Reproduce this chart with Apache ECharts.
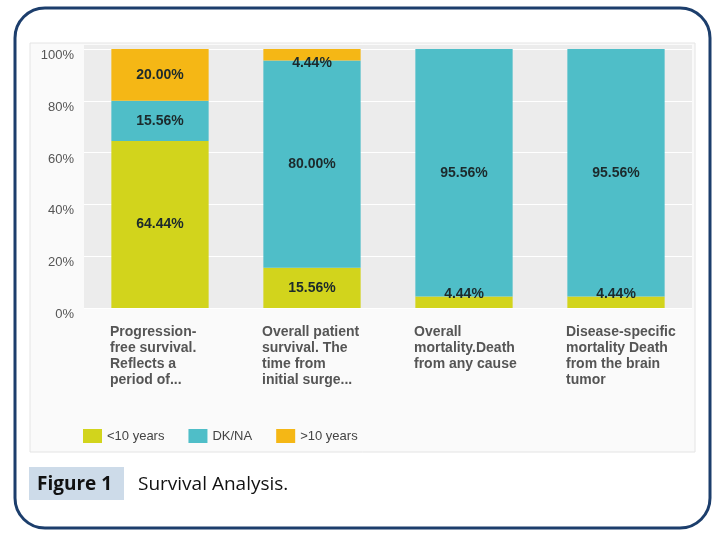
<!DOCTYPE html>
<html>
<head>
<meta charset="utf-8">
<script src="https://cdn.jsdelivr.net/npm/echarts@6/dist/echarts.min.js"></script>
<style>
  html, body { margin: 0; padding: 0; background: #fff; }
  #chart { width: 715px; height: 533px; }
</style>
</head>
<body>
<div id="chart"></div>
<script>
// categories (line breaks as in the picture)
var categories = [
  'Progression-\nfree survival.\nReflects a\nperiod of...',
  'Overall patient\nsurvival. The\ntime from\ninitial surge...',
  'Overall\nmortality.Death\nfrom any cause',
  'Disease-specific\nmortality Death\nfrom the brain\ntumor'
]
// series values, percent
var under10 = [64.44, 15.56, 4.44, 4.44]
var dkna = [15.56, 80.00, 95.56, 95.56]
var over10 = [20.00, 4.44, 0, 0]
var seriesNames = ['<10 years', 'DK/NA', '>10 years']
var yTicks = [0, 20, 40, 60, 80, 100]

var colors = ['#d2d41c', '#4fbec8', '#f5b715']
var font = 'Liberation Sans, Arial, sans-serif'

// small segments: label pushed inward like in the original
function buildData(vals, dir) {
  return vals.map(function (v) {
    var item = { value: v }
    if (v > 0 && v < 6) item.label = { offset: [0, dir * 8] }
    return item
  })
}

function makeSeries(name, vals, color, dir) {
  return {
    name: name,
    type: 'bar',
    stack: 'total',
    barWidth: '64%',
    itemStyle: { color: color },
    label: {
      show: true,
      position: 'inside',
      color: '#1c2a2c',
      fontWeight: 'bold',
      fontSize: 14,
      fontFamily: font,
      formatter: function (p) {
        return p.value > 0 ? p.value.toFixed(2) + '%' : ''
      }
    },
    data: buildData(vals, dir)
  }
}

var chart = echarts.init(document.getElementById('chart'))
var option = {
  animation: false,
  backgroundColor: '#ffffff',
  color: colors,
  textStyle: { fontFamily: font },
  graphic: [
    {
      type: 'rect', z: -10, silent: true,
      shape: { x: 15, y: 8, width: 695, height: 520, r: 30 },
      style: { fill: '#ffffff', stroke: '#1c3e6c', lineWidth: 3 }
    },
    {
      type: 'rect', z: -9, silent: true,
      shape: { x: 30, y: 43, width: 665, height: 409 },
      style: { fill: '#fafafa', stroke: '#e4e4e4', lineWidth: 1 }
    },
    {
      // plot background, a bit taller than the 0-100 range
      type: 'rect', z: -8, silent: true,
      shape: { x: 84, y: 45, width: 608, height: 263 },
      style: { fill: '#ececec' }
    },
    {
      type: 'rect', z: -8, silent: true,
      shape: { x: 29, y: 467, width: 95, height: 33 },
      style: { fill: '#cddbe9' }
    },
    {
      type: 'text', silent: true,
      x: 37, y: 485,
      style: { text: 'Figure 1', fontFamily: 'Open Sans, sans-serif', fontWeight: 'bold', fontSize: 19, fill: '#111', verticalAlign: 'middle' }
    },
    {
      type: 'text', silent: true,
      x: 138, y: 485,
      style: { text: 'Survival Analysis.', fontFamily: 'Open Sans, sans-serif', fontSize: 19, fill: '#111', verticalAlign: 'middle' }
    }
  ],
  grid: {
    left: 84, right: 23, top: 49, bottom: 225,
    show: false
  },
  legend: {
    left: 78, top: 424,
    itemWidth: 19, itemHeight: 14, itemGap: 24,
    icon: 'rect',
    textStyle: { color: '#444', fontSize: 13, fontFamily: font },
    data: seriesNames
  },
  xAxis: {
    type: 'category',
    data: categories,
    axisLine: { show: false },
    axisTick: { show: false },
    axisLabel: {
      interval: 0,
      margin: 16,
      formatter: function (v) {
        return v.split('\n').map(function (s) { return '{a|' + s + '}' }).join('\n')
      },
      rich: {
        a: {
          width: 100, align: 'left',
          color: '#555', fontWeight: 'bold', fontSize: 14,
          lineHeight: 16, fontFamily: font
        }
      }
    }
  },
  yAxis: {
    type: 'value',
    min: yTicks[0], max: yTicks[yTicks.length - 1], interval: 20,
    axisLine: { show: false },
    axisTick: { show: false },
    splitLine: { show: true, lineStyle: { color: '#ffffff', width: 1 } },
    axisLabel: {
      margin: 10,
      color: '#555',
      fontSize: 13,
      fontFamily: font,
      verticalAlign: 'top',
      formatter: '{value}%'
    }
  },
  series: [
    makeSeries(seriesNames[0], under10, colors[0], -1),
    makeSeries(seriesNames[1], dkna, colors[1], 0),
    makeSeries(seriesNames[2], over10, colors[2], 1)
  ]
}
chart.setOption(option)
</script>
</body>
</html>
